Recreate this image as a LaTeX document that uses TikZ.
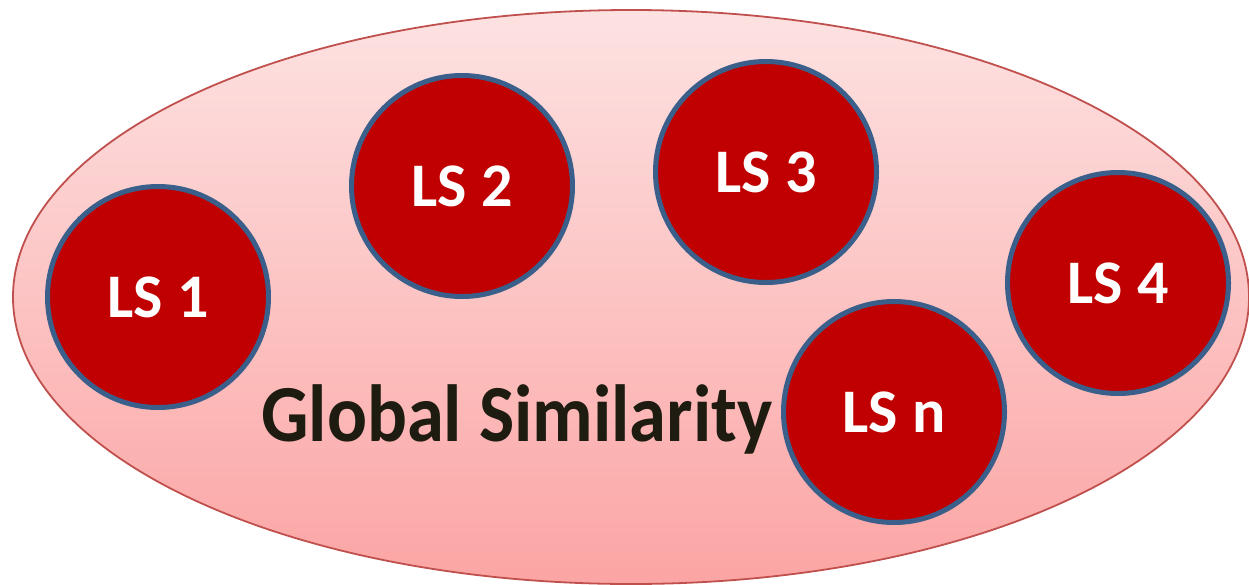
\documentclass[tikz,border=0pt]{standalone}
\usepackage{fontspec}
\usepackage{graphicx}
\setmainfont{Carlito}
\usetikzlibrary{shapes.geometric}
\definecolor{ellborder}{HTML}{C0504D}
\definecolor{elltop}{HTML}{FDE2E2}
\definecolor{ellbottom}{HTML}{FBA5A4}
\definecolor{lsfill}{HTML}{C00000}
\definecolor{lsborder}{HTML}{3A5F8B}
\definecolor{gtext}{HTML}{1E1B10}
\tikzset{
  lscircle/.style={circle, draw=lsborder, line width=5pt, fill=lsfill,
    minimum size=221pt, inner sep=0pt, text=white,
    font=\bfseries\fontsize{62}{62}\selectfont},
  gstyle/.style={inner sep=0pt, text=gtext, font=\bfseries\fontsize{81}{81}\selectfont}
}
\begin{document}
\begin{tikzpicture}[x=1pt,y=-1pt]
\useasboundingbox (0,0) rectangle (1249,584);
\node[ellipse, draw=ellborder, line width=1.8pt, top color=elltop, bottom color=ellbottom,
  minimum width=1236pt, minimum height=574pt, inner sep=0pt] (gs) at (631,297) {};
\node[gstyle, anchor=base west] (glabel) at (261,441) {\scalebox{0.92}[1]{Global Similarity}};
\node[lscircle] (ls1) at (158,297) {LS 1};
\node[lscircle] (ls2) at (462,186) {LS 2};
\node[lscircle] (ls3) at (766,172) {LS 3};
\node[lscircle] (ls4) at (1118,283) {LS 4};
\node[lscircle] (lsn) at (894,412) {LS n};
\end{tikzpicture}
\end{document}
